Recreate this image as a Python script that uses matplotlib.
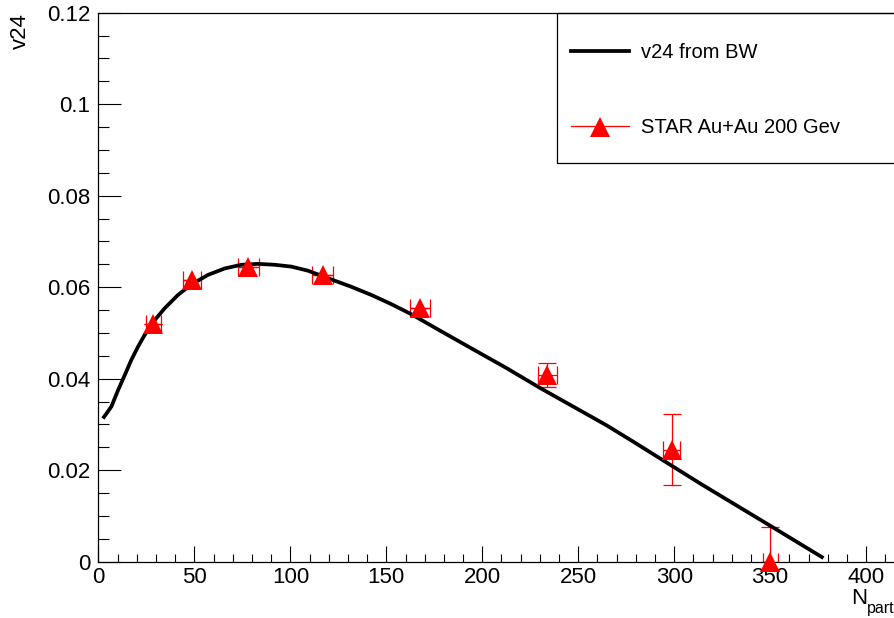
import matplotlib
matplotlib.use("Agg")
import matplotlib.pyplot as plt
from matplotlib.lines import Line2D
from matplotlib.patches import Rectangle
from matplotlib.ticker import MultipleLocator, FixedLocator, FixedFormatter

# blast-wave v2{4} curve vs Npart
bw_npart = [2.3, 6.7, 10.2, 13.7, 17.1, 20.6, 24.1, 29.3, 34.5, 41.4, 48.4, 57.1,
            65.8, 74.4, 83.1, 91.8, 100.5, 109.2, 121.3, 131.7, 142.2, 152.6,
            163.0, 178.0, 195.3, 212.7, 230.0, 247.4, 264.8, 278.8, 313.5, 348.3,
            377.8]
bw_v24 = [0.0313, 0.0339, 0.0375, 0.0408, 0.0441, 0.0470, 0.0496, 0.0528, 0.0554,
          0.0583, 0.0606, 0.0627, 0.0641, 0.0649, 0.0651, 0.0649, 0.0645, 0.0636,
          0.0617, 0.0601, 0.0583, 0.0563, 0.0541, 0.0505, 0.0464, 0.0423, 0.0380,
          0.0339, 0.0298, 0.0262, 0.0171, 0.0083, 0.0008]

# STAR Au+Au 200 GeV v2{4}
star_npart = [28.6, 48.9, 78.1, 116.8, 167.5, 233.9, 298.7, 350.1]
star_v24 = [0.0520, 0.0616, 0.0645, 0.0626, 0.0555, 0.0408, 0.0245, 0.0]
star_xerr = [3.9, 4.7, 5.3, 5.4, 5.4, 4.8, 4.3, 4.0]
star_yerr = [0.0, 0.0, 0.0, 0.0, 0.0, 0.0026, 0.0077, 0.0075]

xticks = [0, 50, 100, 150, 200, 250, 300, 350, 400]
yticks = [0, 0.02, 0.04, 0.06, 0.08, 0.10, 0.12]
ytick_labels = ["0", "0.02", "0.04", "0.06", "0.08", "0.1", "0.12"]

W, H = 895, 618


def fx(px):
    return px / W


def fy(py):
    return 1 - py / H


plt.rcParams['font.family'] = ['Liberation Sans', 'DejaVu Sans']

fig = plt.figure(figsize=(W / 100, H / 100), dpi=100)
x0, y0 = 98.5, 561.7
xpx = 1.919          # pixels per Npart
ax = fig.add_axes([fx(x0), fy(y0), 420 * xpx / W, (y0 - 12.7) / H])
ax.set_xlim(0, 420)
ax.set_ylim(0, 0.12)

ax.errorbar(star_npart, star_v24, xerr=star_xerr, yerr=star_yerr, fmt='none',
            ecolor='red', elinewidth=0.9, capsize=6.8, capthick=0.9, zorder=2)
ax.plot(bw_npart, bw_v24, color='black', lw=2.7, zorder=3,
        solid_joinstyle='round', solid_capstyle='butt')
ax.plot(star_npart, star_v24, '^', color='red', ms=14, mec='red', mew=0,
        zorder=4, clip_on=False)

# axes frame and ticks
for s in ax.spines.values():
    s.set_linewidth(0.9)
ax.xaxis.set_major_locator(FixedLocator(xticks))
ax.xaxis.set_minor_locator(MultipleLocator(10))
ax.yaxis.set_major_locator(FixedLocator(yticks))
ax.yaxis.set_major_formatter(FixedFormatter(ytick_labels))
ax.yaxis.set_minor_locator(MultipleLocator(0.005))
ax.tick_params(which='both', direction='in', top=False, right=False,
               width=0.8, labelsize=16)
ax.tick_params(axis='y', which='major', length=16.5, pad=6)
ax.tick_params(axis='y', which='minor', length=8)
ax.tick_params(axis='x', which='major', length=11.5, pad=3.5)
ax.tick_params(axis='x', which='minor', length=5.8)

# axis titles
fig.text(fx(20), fy(13), "v24", rotation=90, ha='center', va='top', fontsize=16)
fig.text(fx(851), fy(604), "N", ha='left', va='baseline', fontsize=16)
fig.text(fx(866.5), fy(613), "part", ha='left', va='baseline', fontsize=11.5)

# legend box
fig.add_artist(Rectangle((fx(557), fy(163)), fx(360), (163 - 12.7) / H,
                         transform=fig.transFigure, fill=False,
                         edgecolor='black', lw=0.9))
fig.add_artist(Line2D([fx(570.7), fx(629.3)], [fy(50.7), fy(50.7)],
                      transform=fig.transFigure, color='black', lw=2.7))
fig.text(fx(640.7), fy(58.3), "v24 from BW", ha='left', va='baseline', fontsize=14.5)
fig.add_artist(Line2D([fx(570.7), fx(629.3)], [fy(126), fy(126)],
                      transform=fig.transFigure, color='red', lw=0.9))
fig.add_artist(Line2D([fx(600)], [fy(126.7)], transform=fig.transFigure,
                      marker='^', color='red', ms=14, mew=0, ls='none'))
fig.text(fx(640.7), fy(133.3), "STAR Au+Au 200 Gev", ha='left', va='baseline',
         fontsize=14.5)

fig.savefig("out.png", dpi=100)
